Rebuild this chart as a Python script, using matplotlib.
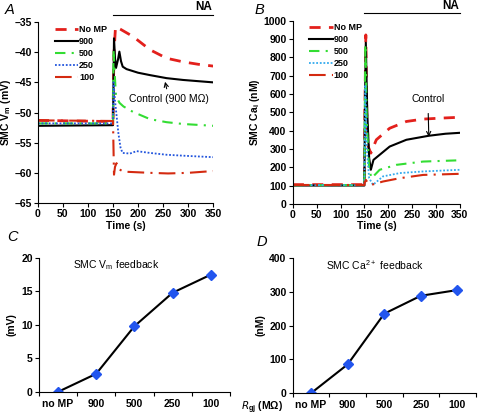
import numpy as np
import matplotlib
matplotlib.use('Agg')
from matplotlib import pyplot as plt
import matplotlib.transforms as mtransforms

plt.rcParams['font.family'] = ['Liberation Sans', 'DejaVu Sans']
plt.rcParams['font.size'] = 7
plt.rcParams['mathtext.default'] = 'regular'

# ---- panel A: SMC Vm (mV) ----
a_nomp_t = [0, 150, 151, 152, 155, 165, 190, 224, 257, 290, 320, 350]
a_nomp_v = [-51.3, -51.5, -45, -40, -35.8, -36.2, -37.4, -39.6, -41.0, -41.6, -42.0, -42.3]
a_900_t = [0, 150, 151, 152, 154, 156, 160, 162.7, 166, 169.4, 177, 200, 224, 257, 290, 350]
a_900_v = [-52.2, -52.1, -45, -37.7, -41, -42.6, -41.2, -39.9, -41.5, -42.4, -42.8, -43.4, -43.8, -44.3, -44.6, -45.0]
a_500_t = [0, 150, 151, 153, 156, 163, 171, 190, 224, 257, 290, 350]
a_500_v = [-51.8, -51.8, -39.6, -43, -47.3, -48.4, -49.0, -49.9, -51.1, -51.6, -51.9, -52.2]
a_250_t = [0, 150, 151, 154, 160.7, 165, 169, 184, 197, 224, 257, 300, 350]
a_250_v = [-51.8, -51.8, -45, -48, -53.4, -55.8, -56.7, -56.8, -56.4, -56.7, -57.0, -57.2, -57.4]
a_100_t = [0, 150, 151, 152, 154, 157, 162, 171, 224, 260, 300, 350]
a_100_v = [-51.3, -51.4, -56, -60.3, -59.0, -58.4, -59.4, -59.8, -60.0, -60.1, -60.0, -59.7]

# ---- panel B: SMC Cai (nM) ----
b_nomp_t = [0, 150, 151, 153, 155, 158, 163.5, 175, 203, 238, 273, 308, 350]
b_nomp_v = [105, 105, 500, 923, 500, 313, 277, 350, 413, 450, 463, 468, 473]
b_900_t = [0, 150, 151, 153, 156, 160, 163.5, 169, 203, 238, 285, 320, 350]
b_900_v = [100, 100, 500, 880, 500, 250, 186, 240, 313, 350, 372, 383, 388]
b_500_t = [0, 150, 151, 152, 155, 160, 165, 182, 217, 273, 350]
b_500_v = [102, 102, 500, 870, 450, 190, 140, 186, 213, 231, 238]
b_250_t = [0, 150, 151, 152, 155, 160, 168, 189, 224, 273, 350]
b_250_v = [102, 102, 400, 650, 300, 140, 104, 150, 168, 177, 186]
b_100_t = [0, 150, 151, 153, 158, 165, 189, 224, 273, 350]
b_100_v = [103, 103, 118, 131, 112, 104, 122, 140, 158, 164]

# ---- panels C, D: feedback vs Rgj ----
rgj_labels = ['no MP', '900', '500', '250', '100']
vm_feedback = [0, 2.7, 9.8, 14.8, 17.5]
ca_feedback = [0, 85, 235, 288, 305]

red = '#e3201c'
green = '#33dd33'
blue_a = '#2255dd'
blue_b = '#33aaee'
dkred = '#d42a10'


def style_axes(ax):
    for s in ['top', 'right']:
        ax.spines[s].set_visible(False)
    ax.tick_params(direction='out', length=3, width=0.8, pad=1.5, labelsize=7.5)
    ax.tick_params(which='minor', direction='out', length=3, width=0.8)


def bold_ticks(ax):
    for lab in ax.get_xticklabels() + ax.get_yticklabels():
        lab.set_fontweight('bold')


def draw_traces(ax, series, blue):
    nomp, s900, s500, s250, s100 = series
    ax.plot(*nomp, color=red, lw=2, dashes=(4, 3), label='No MP')
    ax.plot(*s900, color='black', lw=1.5, label='900')
    ax.plot(*s500, color=green, lw=1.5, dashes=(5, 3, 1, 3), label='500')
    ax.plot(*s250, color=blue, lw=1.3, dashes=(1, 1), label='250')
    ax.plot(*s100, color=dkred, lw=1.5, dashes=(8, 3, 1, 3), label='100')
    ax.legend(loc='upper left', bbox_to_anchor=(0.05, 1.03), frameon=False,
              handlelength=2.6, handletextpad=0.1, labelspacing=0.33,
              prop={'size': 6.5, 'weight': 'bold'})
    trans = mtransforms.blended_transform_factory(ax.transData, ax.transAxes)
    ax.plot([150, 350], [1.04, 1.04], color='black', lw=0.8, transform=trans, clip_on=False)
    ax.text(348, 1.05, 'NA', transform=trans, ha='right', va='bottom', fontsize=8.5,
            fontweight='bold')
    ax.set_xlim(0, 350)
    ax.set_xticks(np.arange(0, 351, 50))
    ax.set_xlabel('Time (s)', fontsize=7.5, fontweight='bold', labelpad=1)


fig = plt.figure(figsize=(4.8, 4.16), dpi=100)

axA = fig.add_axes([0.079, 0.512, 0.365, 0.435])
style_axes(axA)
draw_traces(axA, [(a_nomp_t, a_nomp_v), (a_900_t, a_900_v), (a_500_t, a_500_v),
                  (a_250_t, a_250_v), (a_100_t, a_100_v)], blue_a)
axA.set_ylim(-65, -35)
axA.set_yticks(np.arange(-65, -34, 5))
axA.set_yticklabels([str(v).replace('-', '\u2013') for v in range(-65, -34, 5)])
axA.set_ylabel('SMC V$_m$ (mV)', fontsize=7.5, fontweight='bold', labelpad=1)
axA.annotate('Control (900 M\u03a9)', xy=(254, -44.9), xytext=(262, -47.8),
             ha='center', va='center', fontsize=7.5,
             arrowprops=dict(arrowstyle='->', color='black', lw=0.8, shrinkA=2, shrinkB=0))
bold_ticks(axA)

axB = fig.add_axes([0.610, 0.510, 0.348, 0.440])
style_axes(axB)
draw_traces(axB, [(b_nomp_t, b_nomp_v), (b_900_t, b_900_v), (b_500_t, b_500_v),
                  (b_250_t, b_250_v), (b_100_t, b_100_v)], blue_b)
axB.set_ylim(0, 1000)
axB.set_yticks(np.arange(0, 1001, 100))
axB.set_ylabel('SMC Ca$_i$ (nM)', fontsize=7.5, fontweight='bold', labelpad=1)
axB.annotate('Control', xy=(285, 366), xytext=(283, 574),
             ha='center', va='center', fontsize=7.5,
             arrowprops=dict(arrowstyle='->', color='black', lw=0.8, shrinkA=5, shrinkB=0))
bold_ticks(axB)


def draw_feedback(ax, vals, ymax, step, ylabel, title):
    style_axes(ax)
    x = np.arange(len(rgj_labels))
    ax.plot(x, vals, color='black', lw=1.5, marker='D', markersize=5,
            markerfacecolor='#2255ee', markeredgecolor='#2255ee')
    ax.set_xlim(-0.5, 4.5)
    ax.set_ylim(0, ymax)
    ax.set_yticks(np.arange(0, ymax + 1, step))
    ax.set_xticks(x)
    ax.set_xticklabels(rgj_labels)
    ax.set_xticks(np.arange(-0.5, 4.6, 1), minor=True)
    ax.tick_params(axis='x', which='major', length=0, pad=5)
    ax.set_ylabel(ylabel, fontsize=7.5, fontweight='bold', labelpad=3)
    ax.text(0.18, 1.0, title, transform=ax.transAxes, ha='left', va='top', fontsize=7.5)
    bold_ticks(ax)


axC = fig.add_axes([0.081, 0.058, 0.398, 0.322])
draw_feedback(axC, vm_feedback, 20, 5, '(mV)', 'SMC V$_m$ feedback')
axD = fig.add_axes([0.610, 0.055, 0.381, 0.325])
draw_feedback(axD, ca_feedback, 400, 100, '(nM)', 'SMC Ca$^{2+}$ feedback')

fig.text(0.545, 0.02, '$\\mathit{R}_{gj}$ (M\u03a9)', ha='center', va='center',
         fontsize=7.5, fontweight='bold')

fig.text(0.01, 0.975, 'A', fontsize=10.5, style='italic', va='center')
fig.text(0.53, 0.975, 'B', fontsize=10.5, style='italic', va='center')
fig.text(0.015, 0.43, 'C', fontsize=10.5, style='italic', va='center')
fig.text(0.535, 0.418, 'D', fontsize=10.5, style='italic', va='center')

fig.savefig('out.png', dpi=100)
